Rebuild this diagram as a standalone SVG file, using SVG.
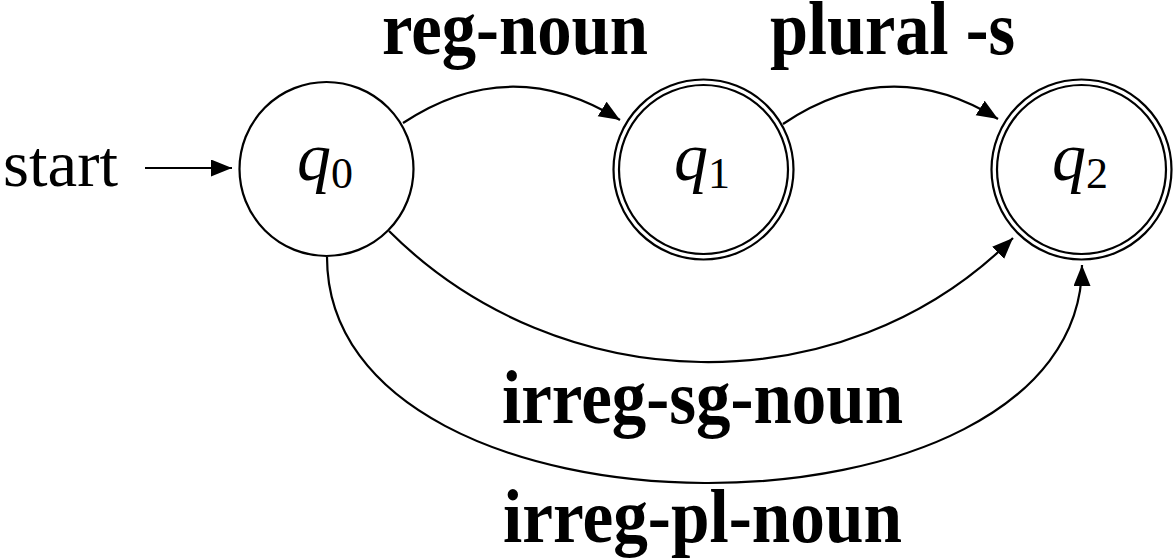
<svg xmlns="http://www.w3.org/2000/svg" width="1174" height="558" viewBox="0 0 1174 558">
  <style>
    .st { fill: #fff; stroke: #000; stroke-width: 2.2; }
    .lbl { font-family: "Liberation Serif", "Times New Roman", serif; font-weight: bold; font-size: 77px; fill: #000; }
    .q { font-family: "Liberation Serif", "Times New Roman", serif; font-style: italic; font-size: 68px; fill: #000; }
    .sub { font-style: normal; font-size: 44px; }
    .edge { fill: none; stroke: #000; stroke-width: 2.2; }
  </style>
  <defs>
    <marker id="arr" markerUnits="userSpaceOnUse" markerWidth="24" markerHeight="20" refX="21" refY="8.5" orient="auto">
      <path d="M0,0 L21,8.5 L0,17 z" fill="#000"/>
    </marker>
  </defs>
  <rect width="1174" height="558" fill="#fff"/>

  <g id="connectors">
    <path class="edge" d="M145,168 L232,168" marker-end="url(#arr)"/>
    <path class="edge" d="M403,123 Q510,52 620,120" marker-end="url(#arr)"/>
    <path class="edge" d="M783,124 Q890,52 998,119" marker-end="url(#arr)"/>
    <path class="edge" d="M389,231 C559,401 843,408 1013,238" marker-end="url(#arr)"/>
    <path class="edge" d="M327,257 C327,557 1082,557 1082,265" marker-end="url(#arr)"/>
  </g>

  <g id="start-label">
    <text x="3" y="186" font-family="Liberation Serif, Times New Roman, serif" font-size="66" textLength="115" lengthAdjust="spacingAndGlyphs">start</text>
  </g>

  <g id="q0">
    <circle class="st" cx="326.5" cy="169" r="87"/>
    <text class="q" x="325" y="180" text-anchor="middle">q<tspan class="sub" dy="8">0</tspan></text>
  </g>
  <g id="q1">
    <circle class="st" cx="703.5" cy="169.5" r="90"/>
    <circle class="st" cx="703.5" cy="169.5" r="84.5"/>
    <text class="q" x="702" y="180" text-anchor="middle">q<tspan class="sub" dy="8">1</tspan></text>
  </g>
  <g id="q2">
    <circle class="st" cx="1081.5" cy="169.5" r="90"/>
    <circle class="st" cx="1081.5" cy="169.5" r="84.5"/>
    <text class="q" x="1080" y="180" text-anchor="middle">q<tspan class="sub" dy="8">2</tspan></text>
  </g>

  <g id="edge-labels">
    <text class="lbl" x="382" y="54" textLength="266" lengthAdjust="spacingAndGlyphs">reg-noun</text>
    <text class="lbl" x="770" y="54" textLength="245" lengthAdjust="spacingAndGlyphs">plural -s</text>
    <text class="lbl" x="502" y="423" textLength="401" lengthAdjust="spacingAndGlyphs">irreg-sg-noun</text>
    <text class="lbl" x="503" y="542" textLength="399" lengthAdjust="spacingAndGlyphs">irreg-pl-noun</text>
  </g>
</svg>
